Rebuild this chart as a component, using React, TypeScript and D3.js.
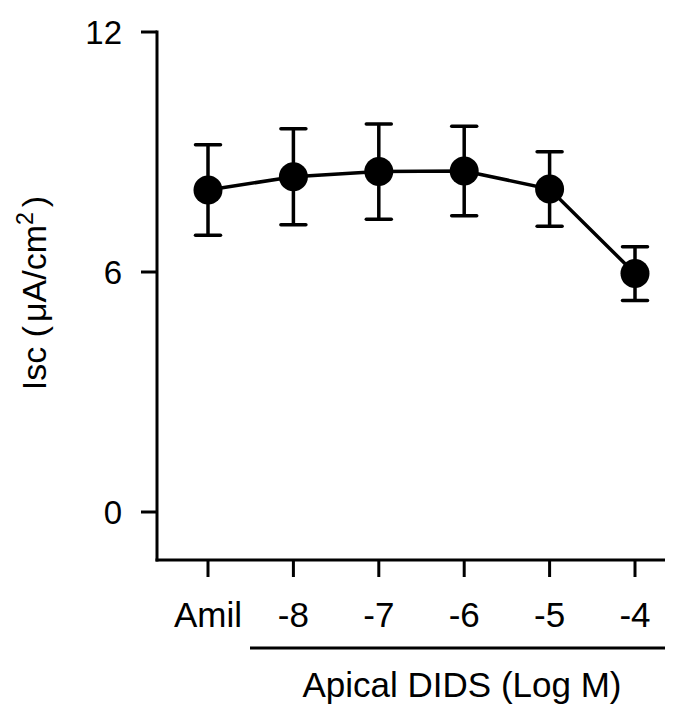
import React, { useEffect, useRef } from "react";
import * as d3 from "d3";

const categories = ["Amil", "-8", "-7", "-6", "-5", "-4"];
const means = [8.05, 8.38, 8.51, 8.525, 8.075, 5.96];
const sems = [1.13, 1.2, 1.19, 1.12, 0.93, 0.67];
const yTicks = [0, 6, 12];

export default function App() {
  const svgRef = useRef<SVGSVGElement>(null);

  useEffect(() => {
    const svg = d3.select(svgRef.current);
    svg.selectAll("*").remove();

    const font = "'Liberation Sans', Arial, sans-serif";
    const axisLeftX = 157;
    const axisRightX = 665;

    const x = d3.scalePoint<string>().domain(categories).range([208, 635]);
    const y = d3.scaleLinear().domain([-1.2, 12]).range([560, 32]);

    const data = categories.map((c, i) => ({ c, m: means[i], s: sems[i] }));

    // y axis
    svg
      .append("line")
      .attr("x1", axisLeftX)
      .attr("x2", axisLeftX)
      .attr("y1", y(12) - 1.5)
      .attr("y2", y(-1.2) + 1.5)
      .attr("stroke", "#000")
      .attr("stroke-width", 3);

    yTicks.forEach((t) => {
      svg
        .append("line")
        .attr("x1", axisLeftX - 16)
        .attr("x2", axisLeftX)
        .attr("y1", y(t))
        .attr("y2", y(t))
        .attr("stroke", "#000")
        .attr("stroke-width", 3);
      svg
        .append("text")
        .attr("x", axisLeftX - 35)
        .attr("y", y(t))
        .attr("dy", "0.35em")
        .attr("text-anchor", "end")
        .attr("font-family", font)
        .attr("font-size", 33)
        .text(t);
    });

    // x axis
    svg
      .append("line")
      .attr("x1", axisLeftX - 1.5)
      .attr("x2", axisRightX)
      .attr("y1", y(-1.2))
      .attr("y2", y(-1.2))
      .attr("stroke", "#000")
      .attr("stroke-width", 3);

    categories.forEach((c) => {
      svg
        .append("line")
        .attr("x1", x(c)!)
        .attr("x2", x(c)!)
        .attr("y1", y(-1.2))
        .attr("y2", y(-1.2) + 17)
        .attr("stroke", "#000")
        .attr("stroke-width", 3);
      svg
        .append("text")
        .attr("x", x(c)!)
        .attr("y", 627)
        .attr("text-anchor", "middle")
        .attr("font-family", font)
        .attr("font-size", 35)
        .text(c);
    });

    // bracket line under DIDS concentrations
    svg
      .append("line")
      .attr("x1", 250)
      .attr("x2", axisRightX)
      .attr("y1", 648)
      .attr("y2", 648)
      .attr("stroke", "#000")
      .attr("stroke-width", 3);

    svg
      .append("text")
      .attr("x", 462)
      .attr("y", 697)
      .attr("text-anchor", "middle")
      .attr("font-family", font)
      .attr("font-size", 35)
      .text("Apical DIDS (Log M)");

    // y label
    const yl = svg
      .append("text")
      .attr("transform", "translate(46,293) rotate(-90)")
      .attr("text-anchor", "middle")
      .attr("font-family", font)
      .attr("font-size", 34);
    yl.append("tspan").text("Isc (");
    yl.append("tspan").attr("dx", 4).text("\u03bcA/cm");
    yl.append("tspan").attr("dy", -13).attr("font-size", 23).text("2");
    yl.append("tspan").attr("dy", 13).attr("dx", 5).text(")");

    // error bars
    const capW = 12.5;
    data.forEach((d) => {
      const cx = x(d.c)!;
      svg
        .append("line")
        .attr("x1", cx)
        .attr("x2", cx)
        .attr("y1", y(d.m + d.s))
        .attr("y2", y(d.m - d.s))
        .attr("stroke", "#000")
        .attr("stroke-width", 3.5);
      [d.m + d.s, d.m - d.s].forEach((v) => {
        svg
          .append("line")
          .attr("x1", cx - capW)
          .attr("x2", cx + capW)
          .attr("y1", y(v))
          .attr("y2", y(v))
          .attr("stroke", "#000")
          .attr("stroke-width", 3.5)
          .attr("stroke-linecap", "round");
      });
    });

    // line
    const line = d3
      .line<{ c: string; m: number }>()
      .x((d) => x(d.c)!)
      .y((d) => y(d.m));
    svg
      .append("path")
      .datum(data)
      .attr("d", line)
      .attr("fill", "none")
      .attr("stroke", "#000")
      .attr("stroke-width", 3.5);

    // markers
    svg
      .selectAll(".pt")
      .data(data)
      .enter()
      .append("circle")
      .attr("cx", (d) => x(d.c)!)
      .attr("cy", (d) => y(d.m))
      .attr("r", 14.5)
      .attr("fill", "#000");
  }, []);

  return (
    <svg
      ref={svgRef}
      width={682}
      height={709}
      style={{ position: "absolute", left: 0, top: 0, background: "#fff" }}
    />
  );
}
